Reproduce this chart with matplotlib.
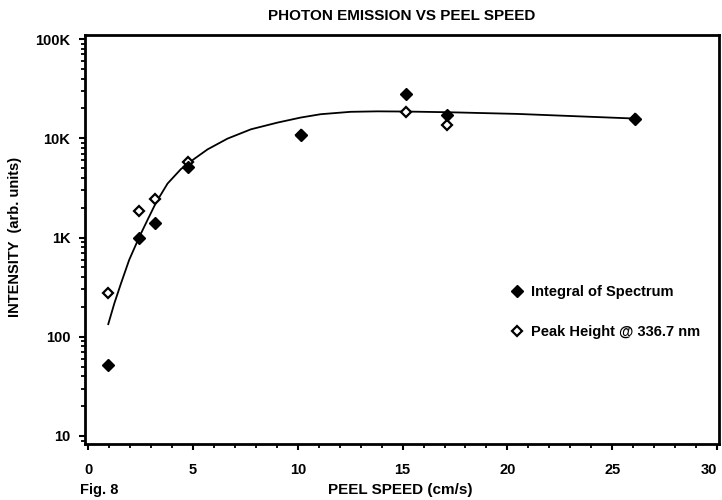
import matplotlib
matplotlib.use("Agg")
import matplotlib.pyplot as plt
from matplotlib.ticker import FixedLocator, FixedFormatter, MultipleLocator, LogLocator, NullFormatter
from matplotlib.lines import Line2D

plt.rcParams['font.family'] = ['Liberation Sans', 'DejaVu Sans']
plt.rcParams['font.weight'] = 'bold'

# Data
integral_x = [0.95, 2.43, 3.2, 4.74, 10.17, 15.14, 17.13, 26.1]
integral_y = [52, 1000, 1400, 5100, 10900, 27700, 17000, 15600]

peak_x = [0.95, 2.43, 3.2, 4.74, 10.17, 15.14, 17.13, 26.1]
peak_y = [279, 1860, 2450, 5830, 10900, 18300, 13700, 15800]

fit_x = [0.95, 1.24, 1.56, 1.95, 2.43, 2.83, 3.23, 3.78, 4.42, 5.05, 5.69, 6.64,
         7.76, 9.03, 10.14, 11.09, 12.52, 13.8, 15.14, 17.13, 20.47, 23.64, 26.1]
fit_y = [134, 217, 346, 596, 1012, 1514, 2250, 3500, 4900, 6200, 7738, 9930,
         12330, 14410, 16200, 17500, 18500, 18700, 18620, 18330, 17620, 16580, 15820]

x_ticks = [0, 5, 10, 15, 20, 25, 30]
y_ticks = [10, 100, 1000, 10000, 100000]
y_tick_labels = ['10', '100', '1K', '10K', '100K']

fig = plt.figure(figsize=(7.22, 5.0), dpi=100)
ax = fig.add_axes([85/722, 1 - 444/500, (719-85)/722, (444-35)/500])

ax.plot(fit_x, fit_y, color='black', lw=1.3, zorder=2, solid_joinstyle='round')
ax.plot(peak_x, peak_y, linestyle='none', marker='D', markersize=5.5,
        markerfacecolor='white', markeredgecolor='black', markeredgewidth=1.6, zorder=3)
ax.plot(integral_x, integral_y, linestyle='none', marker='D', markersize=6.5,
        markerfacecolor='black', markeredgecolor='black', zorder=4)

ax.set_yscale('log')
ax.set_xlim(-0.16, 30.1)
ax.set_ylim(8.3, 1.1e5)

ax.xaxis.set_major_locator(FixedLocator(x_ticks))
ax.xaxis.set_minor_locator(MultipleLocator(1))
ax.yaxis.set_major_locator(FixedLocator(y_ticks))
ax.yaxis.set_major_formatter(FixedFormatter(y_tick_labels))
ax.yaxis.set_minor_locator(LogLocator(base=10, subs=range(2, 10)))
ax.yaxis.set_minor_formatter(NullFormatter())

ax.tick_params(axis='both', which='major', direction='out', length=4.5, width=1.5,
               labelsize=10.5)
ax.tick_params(axis='y', which='major', pad=6)
ax.tick_params(axis='x', which='major', pad=9)
ax.tick_params(axis='both', which='minor', direction='out', length=3, width=1.3)
for s in ax.spines.values():
    s.set_linewidth(2)

fig.canvas.draw()
xt = ax.get_xticklabels()
xt[-1].set_horizontalalignment('right')
xt[-1].set_x(30.25)

ax.set_title('PHOTON EMISSION VS PEEL SPEED', fontsize=11, fontweight='bold', pad=11)
fig.text(15/722, 1 - 237/500, 'INTENSITY  (arb. units)', rotation=90, ha='center', va='center',
         fontsize=10.5, fontweight='bold')
fig.text(400/722, 1 - 490/500, 'PEEL SPEED (cm/s)', ha='center', va='center',
         fontsize=11, fontweight='bold')
fig.text(80/722, 1 - 490/500, 'Fig. 8', ha='left', va='center', fontsize=10.5, fontweight='bold')

handles = [
    Line2D([], [], linestyle='none', marker='D', markersize=6.5, markerfacecolor='black',
           markeredgecolor='black'),
    Line2D([], [], linestyle='none', marker='D', markersize=5, markerfacecolor='white',
           markeredgecolor='black', markeredgewidth=1.6),
]
ax.legend(handles, ['Integral of Spectrum', 'Peak Height @ 336.7 nm'],
          loc='upper left', bbox_to_anchor=(497/722, 1 - 272/500),
          bbox_transform=fig.transFigure, frameon=False, fontsize=10.5,
          handletextpad=0.4, labelspacing=1.75, handlelength=1.0)

fig.savefig('out.png', dpi=100)
